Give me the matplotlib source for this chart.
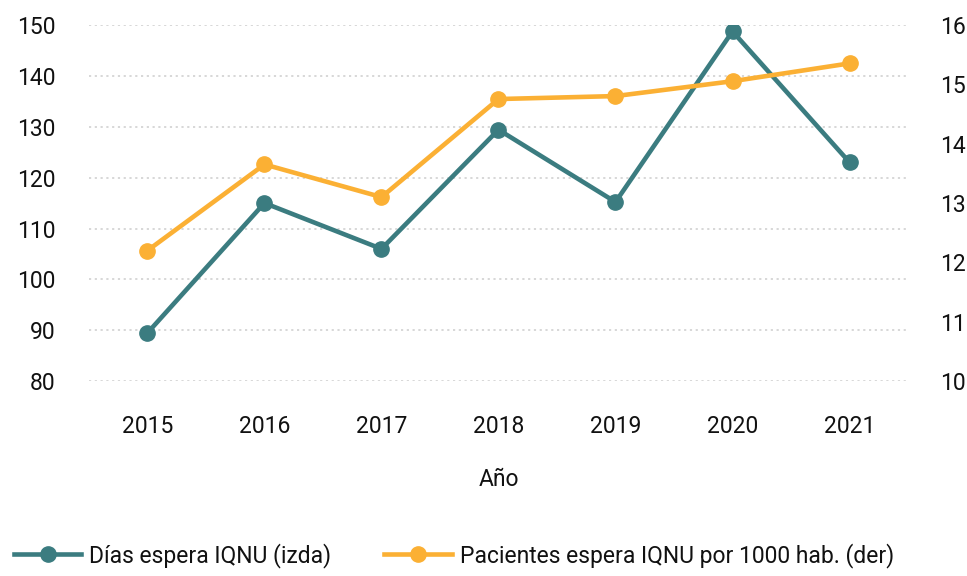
import matplotlib
matplotlib.use("Agg")
import numpy as np
from matplotlib import pyplot as plt

plt.rcParams['font.family'] = ['Roboto', 'DejaVu Sans']
plt.rcParams.update({'font.size': 16.5})

years = ["2015", "2016", "2017", "2018", "2019", "2020", "2021"]
dias_espera = [89.5, 115, 106, 129.4, 115.2, 148.7, 123]
pacientes_1000 = [12.2, 13.65, 13.1, 14.75, 14.8, 15.05, 15.35]

teal = '#3b7c80'
orange = '#fbb034'
text_col = '#111111'

fig = plt.figure(figsize=(9.67, 5.76), dpi=100)
ax = fig.add_axes([0.092, 0.338, 0.847, 0.619])
ax2 = ax.twinx()

x = np.arange(len(years))
ax.plot(x, dias_espera, color=teal, lw=3.3, marker='o', ms=11,
        label="Días espera IQNU (izda)")
ax2.plot(x, pacientes_1000, color=orange, lw=3.3, marker='o', ms=11,
         label="Pacientes espera IQNU por 1000 hab. (der)")

ax.set_xlim(-0.5, 6.5)
ax.set_ylim(80, 150)
ax.set_yticks(np.arange(80, 151, 10))
ax2.set_ylim(10, 16)
ax2.set_yticks(np.arange(10, 17, 1))
ax.set_xticks(x)
ax.set_xticklabels(years)

# dotted grid for the left scale only
ax.grid(axis='y', color='#d4d4d4', lw=1.3, linestyle=(0, (1.2, 2)))
ax.set_axisbelow(True)

for a in (ax, ax2):
    for s in a.spines.values():
        s.set_visible(False)
    a.tick_params(length=0, colors=text_col, labelsize=16.5)
ax.tick_params(axis='y', pad=24)
ax2.tick_params(axis='y', pad=23)
ax.tick_params(axis='x', pad=24)

ax.set_xlabel("Año", color=text_col, fontsize=16.5, labelpad=22)

handles = ax.get_lines() + ax2.get_lines()
fig.legend(handles, [h.get_label() for h in handles], loc='lower left',
           bbox_to_anchor=(0.006, 0.0), ncol=2, frameon=False, fontsize=16.5,
           handlelength=2.95, handletextpad=0.35, columnspacing=2.3,
           borderaxespad=0.05, borderpad=0.3, labelcolor=text_col)

fig.savefig("out.png", dpi=100)
